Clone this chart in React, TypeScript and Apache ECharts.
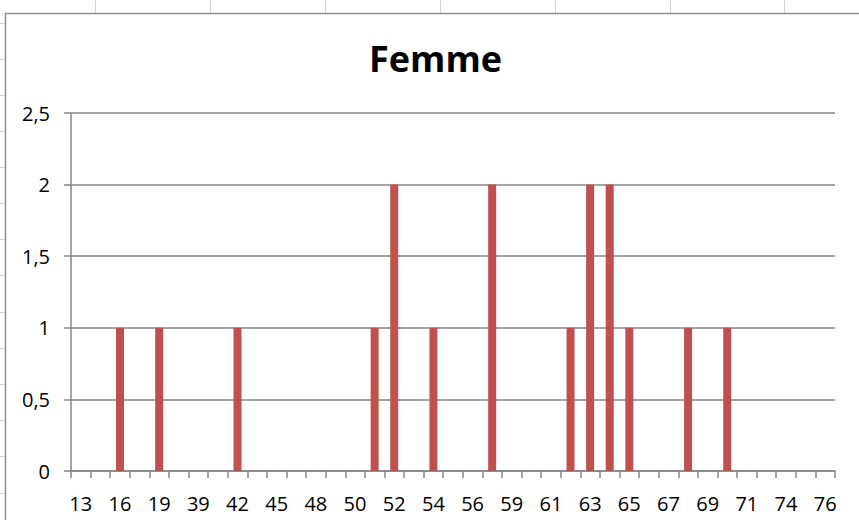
import React, { useEffect, useRef } from "react";
import * as echarts from "echarts";

const TITLE = "Femme";
const ages = [
  "13", "15", "16", "18", "19", "20", "39", "40", "42", "44",
  "45", "47", "48", "49", "50", "51", "52", "53", "54", "55",
  "56", "57", "59", "60", "61", "62", "63", "64", "65", "66",
  "67", "68", "69", "70", "71", "72", "74", "75", "76",
];
const counts = [
  0, 0, 1, 0, 1, 0, 0, 0, 1, 0,
  0, 0, 0, 0, 0, 1, 2, 0, 1, 0,
  0, 2, 0, 0, 0, 1, 2, 2, 1, 0,
  0, 1, 0, 1, 0, 0, 0, 0, 0,
];
const yTicks = [0, 0.5, 1, 1.5, 2, 2.5];

const W = 859;
const H = 520;
const sheetCols = [95, 210, 325, 440, 555, 670, 784];
const sheetRows = [23, 59, 95, 131, 167, 203, 239, 275, 312, 348, 384, 420, 456, 493];

export default function App() {
  const ref = useRef<HTMLDivElement>(null);
  useEffect(() => {
    if (!ref.current) return;
    const chart = echarts.init(ref.current, null, { renderer: "svg" });
    const graphics: any[] = [];
    sheetCols.forEach((x) =>
      graphics.push({
        type: "line",
        silent: true,
        z: -10,
        shape: { x1: x + 0.5, y1: 0, x2: x + 0.5, y2: 13 },
        style: { stroke: "#d4d4d4", lineWidth: 1 },
      })
    );
    sheetRows.forEach((y) =>
      graphics.push({
        type: "line",
        silent: true,
        z: -10,
        shape: { x1: 0, y1: y + 0.5, x2: 5, y2: y + 0.5 },
        style: { stroke: "#d4d4d4", lineWidth: 1 },
      })
    );
    graphics.push({
      type: "rect",
      silent: true,
      z: -5,
      shape: { x: 5.5, y: 13.5, width: 900, height: 600 },
      style: { fill: "#ffffff", stroke: "#8e8e8e", lineWidth: 1.5 },
    });
    chart.setOption({
      animation: false,
      backgroundColor: "#ffffff",
      graphic: graphics,
      title: {
        text: TITLE,
        left: 364,
        top: 35,
        textStyle: {
          fontFamily: "Open Sans",
          fontWeight: "bold",
          fontSize: 36,
          color: "#000000",
        },
      },
      grid: { left: 71, right: 24, top: 113, bottom: 49, containLabel: false },
      xAxis: {
        type: "category",
        data: ages,
        boundaryGap: true,
        axisLine: { show: true, lineStyle: { color: "#868686", width: 1.5 } },
        axisTick: {
          show: true,
          interval: 0,
          length: 7,
          alignWithLabel: false,
          lineStyle: { color: "#868686", width: 1.5 },
        },
        axisLabel: {
          interval: 1,
          margin: 22,
          fontFamily: "Open Sans",
          fontSize: 20,
          color: "#000000",
        },
        splitLine: { show: false },
      },
      yAxis: {
        type: "value",
        min: yTicks[0],
        max: yTicks[yTicks.length - 1],
        interval: 0.5,
        axisLine: { show: true, lineStyle: { color: "#868686", width: 1.5 } },
        axisTick: { show: true, length: 7, lineStyle: { color: "#868686", width: 1.5 } },
        axisLabel: {
          margin: 21,
          fontFamily: "Open Sans",
          fontSize: 20,
          color: "#000000",
          formatter: (v: number) => String(v).replace(".", ","),
        },
        splitLine: { show: true, lineStyle: { color: "#868686", width: 1.5 } },
      },
      series: [
        {
          type: "bar",
          data: counts,
          barWidth: 8,
          itemStyle: { color: "#C0504D" },
        },
      ],
    });
    return () => chart.dispose();
  }, []);
  return (
    <div
      ref={ref}
      style={{ position: "fixed", left: 0, top: 0, width: W, height: H }}
    />
  );
}
